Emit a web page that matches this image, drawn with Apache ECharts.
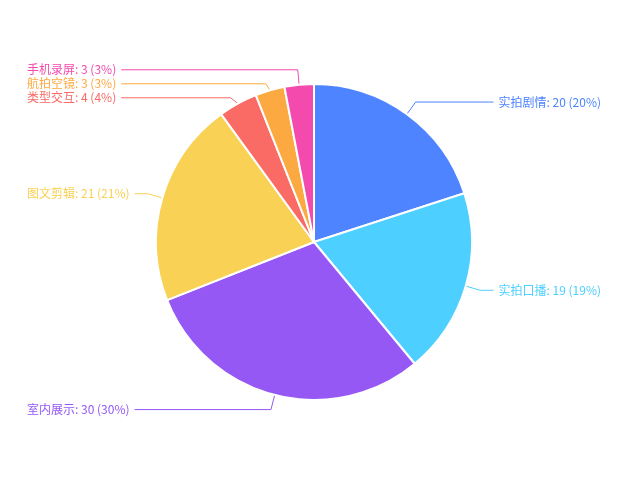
<!DOCTYPE html><html><head><meta charset="utf-8"><script src="https://cdn.jsdelivr.net/npm/echarts@6/dist/echarts.min.js"></script>
<style>html,body{margin:0}#c{width:628px;height:484px}</style></head><body><div id="c"></div><script>
const categories=['实拍剧情','实拍口播','室内展示','图文剪辑','类型交互','航拍空镜','手机录屏'];
const values=[20,19,30,21,4,3,3];
const colors=['#4e84ff','#4dcfff','#9558f5','#f9d155','#f96b64','#fda942','#f44aad'];
const chart=echarts.init(document.getElementById('c'));
chart.setOption({
 series:[{type:'pie',center:[314,242],radius:158,startAngle:90,clockwise:true,
  data:categories.map((n,i)=>({name:n,value:values[i],itemStyle:{color:colors[i]},label:{color:colors[i]}})),
  itemStyle:{borderColor:'#fff',borderWidth:2},
  label:{formatter:'{b}: {c} ({d}%)',fontSize:12,fontFamily:'Noto Sans CJK SC',alignTo:'edge',edgeDistance:27},
  labelLine:{length:15,length2:10}
 }]
});
</script></body></html>
